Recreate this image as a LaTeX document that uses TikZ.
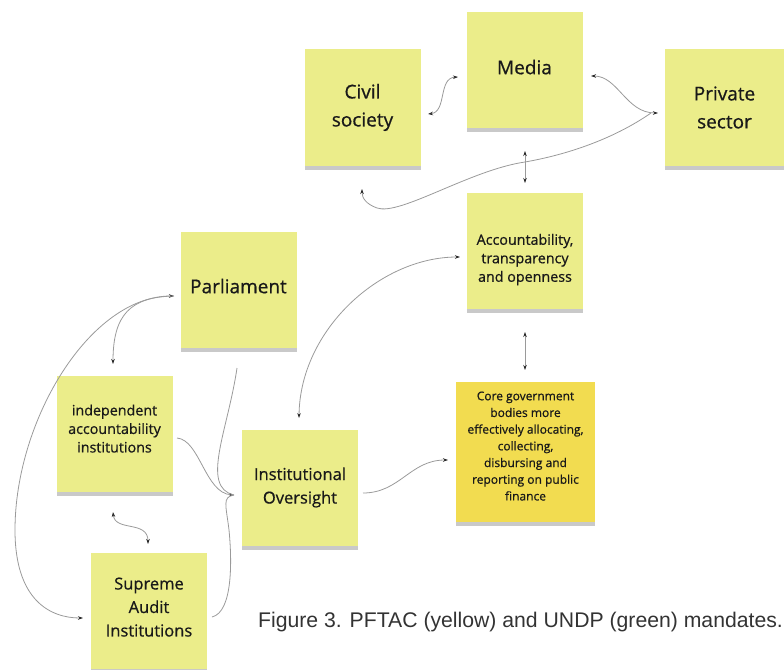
\documentclass[tikz,border=0pt]{standalone}
\usepackage{fontspec}
\setmainfont{Open Sans}[FakeBold=0.7]
\newfontfamily\capfont{Liberation Sans}
\usetikzlibrary{arrows.meta,shadows}
\definecolor{note}{HTML}{EBED8A}
\definecolor{notecore}{HTML}{F2DC50}
\definecolor{link}{HTML}{9A9A9A}
\definecolor{tipc}{HTML}{2A2A2A}
\tikzset{
  sticky/.style={draw=none, fill=note, minimum width=116pt, minimum height=116pt,
    inner sep=2pt, align=center, text=black!90,
    drop shadow={shadow xshift=0pt, shadow yshift=-4pt, opacity=0.3, fill=black!70}},
  bigtxt/.style={font=\fontsize{19}{28}\selectfont},
  midtxt/.style={font=\fontsize{16.5}{23.5}\selectfont},
  smalltxt/.style={font=\fontsize{14.3}{18.5}\selectfont},
  tinytxt/.style={font=\fontsize{12}{16.7}\selectfont},
  conn/.style={draw=link, line width=0.8pt},
  tp/.tip={Stealth[length=5pt,width=3.5pt,color=tipc]},
  both/.style={conn, tp-tp},
  fwd/.style={conn, -tp},
  bwd/.style={conn, tp-}
}
\begin{document}
\begin{tikzpicture}[x=1pt,y=-1pt]
\useasboundingbox (0,0) rectangle (784,669);
% notes
\node[sticky,bigtxt] (civil) at (362.5,107.5) {Civil\\society};
\node[sticky,bigtxt] (media) at (524.5,70) {Media\rule[-6pt]{0pt}{1pt}};
\node[sticky,bigtxt,minimum width=119pt] (private) at (724.5,107.5) {Private\\sector};
\node[sticky,smalltxt] (acc) at (525,250.5) {\rule{0pt}{29pt}Accountability,\\transparency\\and openness};
\node[sticky,tinytxt,fill=notecore,minimum width=139pt,minimum height=140pt] (core) at (525.5,452) {Core government\\bodies more\\effectively allocating,\\collecting,\\disbursing and\\reporting on public\\finance\rule[-12pt]{0pt}{1pt}};
\node[sticky,bigtxt] (parl) at (238.5,290) {Parliament\rule[-8pt]{0pt}{1pt}};
\node[sticky,smalltxt] (indep) at (114.5,433.5) {independent\\accountability\\institutions\rule[-10pt]{0pt}{1pt}};
\node[sticky,midtxt] (inst) at (300,487.5) {Institutional\\Oversight};
\node[sticky,midtxt] (sai) at (149,611) {Supreme\\Audit\\Institutions\rule[-8pt]{0pt}{1pt}};
% connector end points
\coordinate (c1a) at (428,114);
\coordinate (c1b) at (458,77);
\coordinate (c2a) at (591,76);
\coordinate (c2b) at (658,113);
\coordinate (c3a) at (651,113);
\coordinate (c3m) at (525,162);
\coordinate (c3b) at (362,189);
\coordinate (c4a) at (525,151);
\coordinate (c4b) at (525,183);
\coordinate (c5a) at (525,332);
\coordinate (c5b) at (525,370);
\coordinate (c6a) at (299,418);
\coordinate (c6b) at (460,257);
\coordinate (c7a) at (363,493);
\coordinate (c7b) at (448,460);
\coordinate (c8a) at (174,296);
\coordinate (c8m) at (15,530);
\coordinate (c8b) at (83,618);
\coordinate (c9b) at (113,364);
\coordinate (c10a) at (113,512);
\coordinate (c10b) at (148,544);
\coordinate (c11a) at (177,438);
\coordinate (c11b) at (234,495);
\coordinate (c12a) at (237,368);
\coordinate (c13a) at (212,617);
\coordinate (c13m) at (229,530);
% connectors
\draw[both] (c1a) .. controls (447,112) and (438,78) .. (c1b);
\draw[both] (c2a) .. controls (618,76) and (626,113) .. (c2b);
\draw[fwd] (c3a) .. controls (612,140) and (565,155) .. (c3m) .. controls (470,170) and (400,216) .. (377,208) .. controls (366,204) and (362,198) .. (c3b);
\draw[both] (c4a) -- (c4b);
\draw[both] (c5a) -- (c5b);
\draw[both] (c6a) .. controls (300,330) and (380,257) .. (c6b);
\draw[fwd] (c7a) .. controls (400,493) and (410,460) .. (c7b);
\draw[both] (c8a) .. controls (90,296) and (15,420) .. (c8m) .. controls (15,600) and (50,618) .. (c8b);
\draw[fwd] (c8a) .. controls (130,297) and (113,315) .. (c9b);
\draw[both] (c10a) .. controls (115,532) and (148,520) .. (c10b);
\draw[fwd] (c11a) .. controls (200,440) and (205,493) .. (c11b);
\draw[conn] (c12a) .. controls (228,430) and (200,487) .. (c11b);
\draw[conn] (c13a) .. controls (233,612) and (232,560) .. (c13m) .. controls (226,505) and (222,497) .. (c11b);
% caption
\node[anchor=base west, inner sep=0pt, font=\capfont\fontsize{21.2}{24}\selectfont, text=black!80] (cap) at (258,627) {Figure 3. PFTAC (yellow) and UNDP (green) mandates.};
\end{tikzpicture}
\end{document}
